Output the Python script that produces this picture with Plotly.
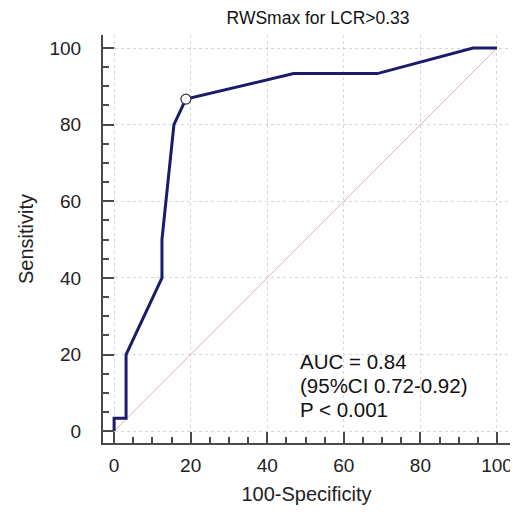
import plotly.graph_objects as go

# ROC curve points (100-Specificity, Sensitivity)
fpr = [0, 0, 3.125, 3.125, 12.5, 12.5, 15.625, 18.75, 46.875, 68.75, 93.75, 100]
tpr = [0, 3.33, 3.33, 20.0, 40.0, 50.0, 80.0, 86.67, 93.33, 93.33, 100, 100]
cut_x = [18.75]
cut_y = [86.67]
diag = [0, 100]
title = "RWSmax for LCR>0.33"
stats = ["AUC = 0.84", "(95%CI 0.72-0.92)", "P < 0.001"]
tickvals = [0, 20, 40, 60, 80, 100]

FONT = "Liberation Sans, Arial, sans-serif"
fig = go.Figure()
fig.add_trace(go.Scatter(x=diag, y=diag, mode="lines",
                         line=dict(color="#dfb3bb", width=1), hoverinfo="skip"))
fig.add_trace(go.Scatter(x=fpr, y=tpr, mode="lines",
                         line=dict(color="#1b1b6b", width=3)))
fig.add_trace(go.Scatter(x=cut_x, y=cut_y, mode="markers",
                         marker=dict(size=10, color="white",
                                     line=dict(color="#333333", width=1.2))))

axis_common = dict(
    automargin=False,
    tickvals=tickvals, ticks="inside", ticklen=11, tickwidth=2, tickcolor="#4a4a4a",
    showline=True, linecolor="#4a4a4a", linewidth=2,
    showgrid=True, gridcolor="#d6d6d6", griddash="3px,3px", gridwidth=1,
    zeroline=False, tickfont=dict(size=19, color="#222222", family=FONT),
    minor=dict(dtick=5, ticks="inside", ticklen=6, tickwidth=1.5, tickcolor="#4a4a4a",
               showgrid=False),
)
fig.update_xaxes(range=[-2.9, 103.4], ticklabelstandoff=4,
                 title=dict(text="100-Specificity",
                            font=dict(size=20, color="#222222", family=FONT), standoff=12),
                 **axis_common)
fig.update_yaxes(range=[-3.1, 103.4], ticklabelstandoff=16,
                 title=dict(text="Sensitivity",
                            font=dict(size=20, color="#222222", family=FONT), standoff=10),
                 **axis_common)

for i, s in enumerate(stats):
    fig.add_annotation(x=48.0, y=18.2 - i * 6.25, xref="x", yref="y", text=s,
                       showarrow=False, xanchor="left", yanchor="middle",
                       font=dict(size=20.5, color="#111111", family=FONT))

# page body has an 8px margin, so the figure is sized/offset accordingly
fig.update_layout(
    template="none",
    width=510, height=507,
    margin=dict(l=95, r=8, t=27, b=72, autoexpand=False),
    title=dict(text=title, x=0.608, xanchor="center", xref="container",
               y=1 - 10 / 507, yref="container", yanchor="middle",
               font=dict(size=17.5, color="#111111", family=FONT)),
    showlegend=False, plot_bgcolor="white", paper_bgcolor="white",
)
fig.write_html("out.html")
